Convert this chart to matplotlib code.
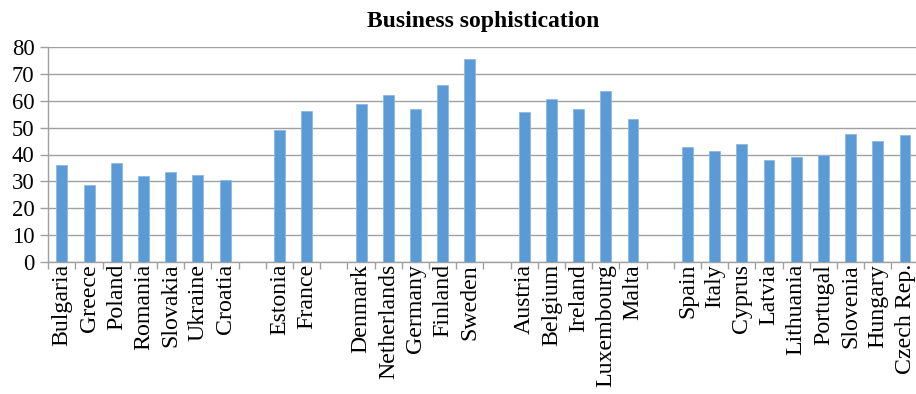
import matplotlib
matplotlib.use("Agg")
import matplotlib.pyplot as plt

plt.rcParams['font.family'] = ['Liberation Serif', 'DejaVu Serif']

# Country groups, separated by an empty slot on the axis
group_1 = ["Bulgaria", "Greece", "Poland", "Romania", "Slovakia", "Ukraine", "Croatia"]
values_1 = [36.0, 28.6, 36.7, 32.0, 33.4, 32.3, 30.5]

group_2 = ["Estonia", "France"]
values_2 = [49.1, 56.1]

group_3 = ["Denmark", "Netherlands", "Germany", "Finland", "Sweden"]
values_3 = [59.0, 62.2, 56.9, 65.8, 75.7]

group_4 = ["Austria", "Belgium", "Ireland", "Luxembourg", "Malta"]
values_4 = [55.7, 60.7, 57.0, 63.8, 53.1]

group_5 = ["Spain", "Italy", "Cyprus", "Latvia", "Lithuania", "Portugal",
           "Slovenia", "Hungary", "Czech Rep."]
values_5 = [42.7, 41.2, 43.8, 38.1, 39.2, 39.7, 47.5, 45.0, 47.2]

y_ticks = [0, 10, 20, 30, 40, 50, 60, 70, 80]
title = "Business sophistication"

groups = [(group_1, values_1), (group_2, values_2), (group_3, values_3),
          (group_4, values_4), (group_5, values_5)]

labels, values, positions = [], [], []
pos = 0
for gi, (names, vals) in enumerate(groups):
    for n, v in zip(names, vals):
        labels.append(n)
        values.append(v)
        positions.append(pos)
        pos += 1
    if gi < len(groups) - 1:
        pos += 1  # blank slot between groups
n_slots = pos

W, H = 916, 394
fig = plt.figure(figsize=(W / 100, H / 100), dpi=100)
left, right = 48.3, 918.6
top, bottom = 47.3, 261.7
ax = fig.add_axes([left / W, (H - bottom) / H, (right - left) / W, (bottom - top) / H])

grid_c = '#a0a0a0'
ax.bar(positions, values, width=0.4, color='#5B9BD5', edgecolor='#8db8e3',
       linewidth=0.6, zorder=3)

ax.set_xlim(-0.5, n_slots - 0.5)
ax.set_ylim(0, 80)
ax.set_yticks(y_ticks)
ax.yaxis.grid(True, color=grid_c, linewidth=1.0, zorder=0)
ax.set_axisbelow(True)

ax.set_xticks(positions)
ax.set_xticklabels(labels, rotation=90, fontsize=17.2)
ax.set_xticks([i - 0.5 for i in range(n_slots + 1)], minor=True)
ax.tick_params(axis='x', which='major', length=0, pad=1.5)
ax.tick_params(axis='x', which='minor', length=5, width=1, color=grid_c, direction='out')
ax.tick_params(axis='y', which='major', length=6, width=1, color=grid_c,
               labelsize=16.3, pad=4)

for s in ['top', 'right']:
    ax.spines[s].set_visible(False)
for s in ['left', 'bottom']:
    ax.spines[s].set_color(grid_c)
    ax.spines[s].set_linewidth(1.0)

ax.set_title(title, fontsize=17, fontweight='bold', pad=14.5)

fig.savefig("out.png", dpi=100)
